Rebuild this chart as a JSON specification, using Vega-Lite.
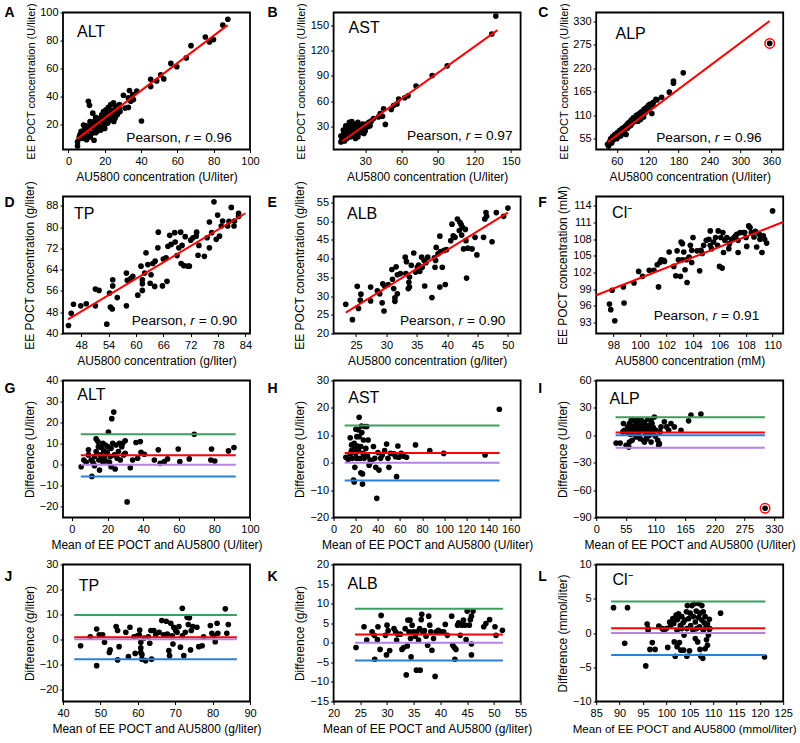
{
"$schema": "https://vega.github.io/schema/vega-lite/v6.json",
"padding": {"left": 3, "top": 1.5, "right": 0, "bottom": 4},
"config": {
  "font": "Liberation Sans",
  "view": {"stroke": "black", "strokeWidth": 1.8},
  "axis": {"grid": false, "domain": false, "tickColor": "black", "tickSize": 3, "tickWidth": 1, "tickCount": 20, "labelColor": "black", "labelFontSize": 11, "labelFont": "Liberation Sans", "titleFont": "Liberation Sans", "titleFontSize": 12, "titleFontWeight": "normal", "titleColor": "black", "labelFlush": false, "labelOverlap": false},
  "axisX": {"labelPadding": 3, "titlePadding": 5},
  "axisY": {"labelPadding": 2, "titleX": -27, "titleBaseline": "bottom"},
  "text": {"font": "Liberation Sans", "color": "black"}
},
"datasets": {
"A": [{"x":5,"y":7.4},{"x":5,"y":4.5},{"x":6,"y":9.8},{"x":6.4,"y":12.7},{"x":7.3,"y":13.5},{"x":8.3,"y":19.5},{"x":9.2,"y":13.5},{"x":9.7,"y":19},{"x":10.5,"y":15.9},{"x":11,"y":36.5},{"x":11.6,"y":33.6},{"x":11.9,"y":21.9},{"x":12.3,"y":17.6},{"x":12.8,"y":13.5},{"x":13.4,"y":28},{"x":13.8,"y":20.7},{"x":14.1,"y":8.6},{"x":14.7,"y":16.6},{"x":15.2,"y":19.5},{"x":15.6,"y":23.2},{"x":16,"y":15.2},{"x":16.5,"y":21.5},{"x":17.1,"y":18.3},{"x":17.4,"y":24.4},{"x":17.8,"y":15.9},{"x":18.3,"y":26.8},{"x":18.9,"y":21.9},{"x":19.3,"y":29.2},{"x":19.6,"y":19},{"x":20.2,"y":24.4},{"x":20.7,"y":30.4},{"x":21.1,"y":25.6},{"x":21.5,"y":20.7},{"x":22,"y":32.1},{"x":22.6,"y":27.3},{"x":22.9,"y":23.2},{"x":23.3,"y":34.1},{"x":23.9,"y":29.2},{"x":24.4,"y":25.6},{"x":24.8,"y":35.3},{"x":25.1,"y":28},{"x":25.7,"y":24.4},{"x":26.2,"y":31.6},{"x":26.6,"y":26.8},{"x":27.5,"y":30.4},{"x":28.1,"y":34.1},{"x":28.4,"y":29.2},{"x":30.3,"y":40.8},{"x":31.2,"y":31.6},{"x":33,"y":32.1},{"x":33,"y":38.9},{"x":33.6,"y":44.2},{"x":34.3,"y":36.5},{"x":35.4,"y":41.3},{"x":35.8,"y":37.7},{"x":37.6,"y":43.8},{"x":40.2,"y":22.4},{"x":6,"y":11},{"x":7,"y":15},{"x":8,"y":10},{"x":9,"y":17},{"x":10,"y":12},{"x":11,"y":18},{"x":12,"y":11},{"x":13,"y":19},{"x":14,"y":22},{"x":15,"y":14},{"x":16,"y":18},{"x":17,"y":22},{"x":18,"y":17},{"x":19,"y":23},{"x":20,"y":20},{"x":21,"y":28},{"x":22,"y":22},{"x":23,"y":26},{"x":24,"y":30},{"x":25,"y":22},{"x":26,"y":33},{"x":27,"y":27},{"x":20,"y":17},{"x":15,"y":25},{"x":10,"y":9},{"x":28,"y":31},{"x":45.3,"y":47},{"x":45.3,"y":52.2},{"x":48.6,"y":51},{"x":50.8,"y":55.4},{"x":52.5,"y":52.5},{"x":56.4,"y":63.6},{"x":59.7,"y":61.2},{"x":64.9,"y":67.5},{"x":67.5,"y":76.3},{"x":75.4,"y":82.5},{"x":77.7,"y":78.9},{"x":79.9,"y":80.6},{"x":85,"y":91},{"x":87.8,"y":95.2}],
"B": [{"x":10,"y":12},{"x":10,"y":19},{"x":11,"y":15},{"x":12,"y":21},{"x":12,"y":17},{"x":13,"y":13},{"x":13,"y":24},{"x":14,"y":19},{"x":14,"y":27},{"x":15,"y":22},{"x":15,"y":16},{"x":16,"y":25},{"x":16,"y":31},{"x":16,"y":20},{"x":17,"y":23},{"x":17,"y":28},{"x":18,"y":18},{"x":18,"y":26},{"x":18,"y":33},{"x":19,"y":22},{"x":19,"y":29},{"x":20,"y":25},{"x":20,"y":31},{"x":20,"y":20},{"x":21,"y":27},{"x":21,"y":23},{"x":22,"y":33},{"x":22,"y":28},{"x":23,"y":25},{"x":23,"y":30},{"x":24,"y":22},{"x":24,"y":35},{"x":25,"y":27},{"x":25,"y":32},{"x":26,"y":29},{"x":26,"y":24},{"x":27,"y":31},{"x":28,"y":26},{"x":28,"y":33},{"x":29,"y":22},{"x":30,"y":29},{"x":31,"y":33},{"x":32,"y":30},{"x":33,"y":35},{"x":34,"y":31},{"x":35,"y":36.5},{"x":22,"y":16},{"x":24,"y":18},{"x":17,"y":35},{"x":19,"y":36},{"x":14,"y":31},{"x":12,"y":26},{"x":27,"y":23},{"x":30,"y":25},{"x":36.9,"y":39.6},{"x":41,"y":41.5},{"x":42.4,"y":45.4},{"x":44.3,"y":42.3},{"x":45.2,"y":51.2},{"x":46.6,"y":32.7},{"x":51.5,"y":50.4},{"x":53.4,"y":55},{"x":56.2,"y":56.9},{"x":57.6,"y":62.7},{"x":62.6,"y":64.2},{"x":65.3,"y":66.5},{"x":71.9,"y":78},{"x":85.2,"y":90.4},{"x":97.6,"y":101.9},{"x":134.3,"y":139.6},{"x":137.6,"y":160.8}],
"C": [{"x":42,"y":42},{"x":44,"y":38},{"x":46,"y":48},{"x":48,"y":55},{"x":50,"y":45},{"x":52,"y":60},{"x":53,"y":52},{"x":55,"y":58},{"x":56,"y":65},{"x":58,"y":62},{"x":60,"y":55},{"x":60,"y":68},{"x":62,"y":70},{"x":63,"y":60},{"x":65,"y":66},{"x":66,"y":75},{"x":67,"y":72},{"x":68,"y":62},{"x":70,"y":78},{"x":71,"y":70},{"x":72,"y":80},{"x":73,"y":74},{"x":75,"y":82},{"x":76,"y":68},{"x":77,"y":85},{"x":78,"y":65},{"x":80,"y":88},{"x":81,"y":80},{"x":82,"y":92},{"x":83,"y":84},{"x":85,"y":90},{"x":86,"y":95},{"x":87,"y":86},{"x":88,"y":99},{"x":90,"y":92},{"x":91,"y":98},{"x":92,"y":104},{"x":93,"y":95},{"x":95,"y":101},{"x":96,"y":106},{"x":97,"y":100},{"x":98,"y":110},{"x":100,"y":104},{"x":101,"y":96},{"x":102,"y":112},{"x":103,"y":107},{"x":105,"y":115},{"x":106,"y":100},{"x":107,"y":110},{"x":108,"y":118},{"x":110,"y":112},{"x":111,"y":120},{"x":112,"y":106},{"x":113,"y":124},{"x":115,"y":116},{"x":116,"y":127},{"x":118,"y":120},{"x":120,"y":130},{"x":121,"y":122},{"x":122,"y":134},{"x":124,"y":126},{"x":125,"y":136},{"x":127,"y":129},{"x":128,"y":114},{"x":130,"y":132},{"x":131,"y":140},{"x":136,"y":147},{"x":138,"y":146},{"x":147,"y":152},{"x":162,"y":164},{"x":170,"y":185},{"x":170,"y":190},{"x":189,"y":209},{"x":356.8,"y":277.8}],
"D": [{"x":45.2,"y":43},{"x":45.8,"y":47.6},{"x":46.3,"y":51},{"x":47.9,"y":50.4},{"x":49.1,"y":51.2},{"x":51.1,"y":56.7},{"x":51.9,"y":56.2},{"x":51.1,"y":50.4},{"x":54.2,"y":55.2},{"x":54.4,"y":49.9},{"x":54.8,"y":49.2},{"x":54.9,"y":60.2},{"x":54.9,"y":57.9},{"x":53.6,"y":43.5},{"x":55.9,"y":53.5},{"x":57.9,"y":62.7},{"x":58.1,"y":60},{"x":57.9,"y":50.4},{"x":58.9,"y":60.7},{"x":59.3,"y":61.5},{"x":60.4,"y":54.4},{"x":61.1,"y":65.3},{"x":61.4,"y":60.2},{"x":61.4,"y":58.7},{"x":61.4,"y":56.2},{"x":61.9,"y":62.7},{"x":62.2,"y":70.3},{"x":62.6,"y":65.9},{"x":63.1,"y":58.9},{"x":63.3,"y":62.1},{"x":63.7,"y":66.3},{"x":64.1,"y":57.7},{"x":64.2,"y":67.2},{"x":64.8,"y":72.2},{"x":64.9,"y":78.1},{"x":66,"y":68},{"x":65.8,"y":57.9},{"x":66.8,"y":59.6},{"x":66.6,"y":68.4},{"x":67,"y":72.8},{"x":67.4,"y":76.9},{"x":67.7,"y":73.5},{"x":68.5,"y":77.9},{"x":68.6,"y":74.4},{"x":69,"y":69.3},{"x":69.4,"y":72.2},{"x":69.8,"y":78.1},{"x":69.9,"y":66.3},{"x":70.1,"y":73.1},{"x":70.5,"y":65.5},{"x":70.8,"y":76.4},{"x":71.4,"y":65.3},{"x":71.7,"y":65.3},{"x":72,"y":75.1},{"x":72.5,"y":76},{"x":73.2,"y":76.6},{"x":73.3,"y":78.1},{"x":73.6,"y":69.4},{"x":73.8,"y":73.1},{"x":75,"y":69},{"x":75.6,"y":76},{"x":76.1,"y":72.2},{"x":76.1,"y":81.9},{"x":76.6,"y":77.9},{"x":77.1,"y":89.5},{"x":77.6,"y":75.4},{"x":77.9,"y":84.5},{"x":78.3,"y":76.6},{"x":78.7,"y":80.4},{"x":79,"y":82.3},{"x":80.1,"y":80.4},{"x":80.4,"y":82.2},{"x":80.9,"y":87.4},{"x":81.5,"y":80.4},{"x":81.6,"y":82.3},{"x":82.5,"y":84},{"x":82.5,"y":85.2}],
"E": [{"x":23.3,"y":27.8},{"x":24.4,"y":23.7},{"x":25.2,"y":32.6},{"x":25.4,"y":26.7},{"x":25.8,"y":30.5},{"x":25.7,"y":28.9},{"x":27.4,"y":32.4},{"x":27.4,"y":28.7},{"x":28.5,"y":31.4},{"x":28.9,"y":30.6},{"x":29.3,"y":28.2},{"x":29.4,"y":33.3},{"x":29.6,"y":26},{"x":29.7,"y":32.7},{"x":30.3,"y":33.1},{"x":30.9,"y":37.1},{"x":31,"y":34.5},{"x":31.2,"y":32},{"x":31.4,"y":29.5},{"x":31.4,"y":28.6},{"x":31.6,"y":37.8},{"x":31.8,"y":35.7},{"x":31.8,"y":30.6},{"x":32.3,"y":36},{"x":33.1,"y":40.4},{"x":33.2,"y":36},{"x":33.3,"y":39.2},{"x":33.6,"y":32},{"x":33.7,"y":33.7},{"x":33.8,"y":32.4},{"x":33.8,"y":35.1},{"x":34.1,"y":38.2},{"x":34.5,"y":41.5},{"x":34.8,"y":36.4},{"x":35.1,"y":37.7},{"x":35.3,"y":38.3},{"x":35.5,"y":36.6},{"x":35.8,"y":40.4},{"x":35.9,"y":37.7},{"x":36.2,"y":39.5},{"x":36.3,"y":32.7},{"x":36.5,"y":38.9},{"x":36.8,"y":40.4},{"x":37.5,"y":29.6},{"x":37.9,"y":40.2},{"x":38,"y":37.7},{"x":38.1,"y":39.5},{"x":38.2,"y":43},{"x":38.5,"y":41.3},{"x":38.8,"y":46},{"x":38.9,"y":41.9},{"x":38.8,"y":32.4},{"x":39.2,"y":37.7},{"x":39.5,"y":42.2},{"x":39.7,"y":33.1},{"x":39.9,"y":42.4},{"x":40.6,"y":44.8},{"x":40.8,"y":49.2},{"x":41,"y":46.1},{"x":41.3,"y":45.7},{"x":41.7,"y":50.6},{"x":42,"y":47.5},{"x":42.1,"y":49.7},{"x":42.3,"y":49.1},{"x":42.4,"y":46.3},{"x":42.5,"y":48.4},{"x":42.7,"y":42.6},{"x":43,"y":47.8},{"x":43.1,"y":44.8},{"x":43.2,"y":34.8},{"x":43.4,"y":42.8},{"x":44.1,"y":42.6},{"x":44.6,"y":45.7},{"x":44.9,"y":41},{"x":46,"y":45.7},{"x":46.2,"y":50.6},{"x":46.4,"y":52.3},{"x":46.5,"y":51.3},{"x":47.4,"y":44.5},{"x":48.1,"y":52.3},{"x":49.3,"y":51.3},{"x":50,"y":53.5}],
"F": [{"x":97.7,"y":96.3},{"x":97.8,"y":95.3},{"x":98.1,"y":93.3},{"x":97.9,"y":98.8},{"x":98.75,"y":99.4},{"x":98.8,"y":96.5},{"x":99.55,"y":100.1},{"x":99.9,"y":102.2},{"x":100.2,"y":101.3},{"x":100.7,"y":102.4},{"x":101.05,"y":102.4},{"x":101.3,"y":103.4},{"x":101.4,"y":99.4},{"x":101.5,"y":103.8},{"x":101.6,"y":104.3},{"x":101.8,"y":104.2},{"x":102.2,"y":105.7},{"x":101.85,"y":104},{"x":102.55,"y":103.1},{"x":102.7,"y":101.4},{"x":102.8,"y":105.9},{"x":102.9,"y":104.3},{"x":103.05,"y":101.3},{"x":103.1,"y":107.5},{"x":103.2,"y":107.2},{"x":103.2,"y":104.3},{"x":103.3,"y":105.7},{"x":103.4,"y":102.5},{"x":103.5,"y":104.3},{"x":103.55,"y":100.2},{"x":103.7,"y":104.8},{"x":103.8,"y":106.9},{"x":103.9,"y":106},{"x":104,"y":108.3},{"x":103.9,"y":103.8},{"x":104.3,"y":105.9},{"x":104.5,"y":102.3},{"x":104.6,"y":106},{"x":104.7,"y":105.4},{"x":104.8,"y":106.9},{"x":105,"y":107.8},{"x":105.2,"y":108},{"x":105.3,"y":109.5},{"x":105.3,"y":106.9},{"x":105.4,"y":106.3},{"x":105.55,"y":107.5},{"x":105.7,"y":108.3},{"x":105.85,"y":106.9},{"x":105.9,"y":109.5},{"x":106,"y":103.1},{"x":106.1,"y":108.3},{"x":106.2,"y":102.8},{"x":106.25,"y":109.2},{"x":106.3,"y":105.6},{"x":106.4,"y":107.8},{"x":106.55,"y":108.3},{"x":106.7,"y":106.3},{"x":106.75,"y":107.2},{"x":106.9,"y":108},{"x":107.1,"y":108.3},{"x":107.2,"y":108.6},{"x":107.3,"y":108.9},{"x":107.4,"y":105.6},{"x":107.55,"y":109.2},{"x":107.8,"y":109.2},{"x":108,"y":108.3},{"x":108.05,"y":106.7},{"x":108.2,"y":110.4},{"x":108.3,"y":110.1},{"x":108.4,"y":109.2},{"x":108.6,"y":108.4},{"x":108.7,"y":109.4},{"x":108.8,"y":106.6},{"x":109,"y":108.9},{"x":109.05,"y":108},{"x":109.2,"y":105.6},{"x":109.3,"y":108.6},{"x":109.4,"y":108},{"x":109.55,"y":107.3},{"x":110,"y":113.1},{"x":107.9,"y":109.2},{"x":107.4,"y":107.8}],
"G": [{"x":5.2,"y":-0.9},{"x":6.7,"y":2.3},{"x":8,"y":1.2},{"x":9.3,"y":7.1},{"x":9.3,"y":4.7},{"x":10.8,"y":2.3},{"x":11.2,"y":-5.5},{"x":11.8,"y":1.2},{"x":12.7,"y":-0.4},{"x":12.7,"y":3.9},{"x":13.6,"y":12.3},{"x":13.6,"y":6.3},{"x":14.6,"y":11},{"x":14.9,"y":8.6},{"x":15.1,"y":2.3},{"x":15.5,"y":-2.5},{"x":16,"y":4.7},{"x":16.4,"y":8.2},{"x":16.8,"y":3.4},{"x":17.4,"y":10.2},{"x":17.4,"y":1.2},{"x":17.9,"y":6.6},{"x":18.3,"y":3.9},{"x":18.7,"y":9.4},{"x":19.2,"y":1.8},{"x":19.8,"y":5.9},{"x":20.1,"y":8.6},{"x":20.5,"y":15.5},{"x":21.1,"y":1.2},{"x":21.6,"y":3.9},{"x":22,"y":-0.9},{"x":22,"y":7.8},{"x":22.4,"y":21.9},{"x":22.9,"y":10.2},{"x":23.5,"y":25},{"x":23.9,"y":4.7},{"x":24.3,"y":-2},{"x":24.8,"y":9.4},{"x":25.4,"y":3.1},{"x":26.1,"y":6.3},{"x":26.7,"y":10.2},{"x":27.2,"y":2.3},{"x":28,"y":8.6},{"x":28.5,"y":10.2},{"x":29.1,"y":4.7},{"x":29.9,"y":11.4},{"x":29.9,"y":5.5},{"x":31,"y":-17.6},{"x":32.8,"y":-1.4},{"x":34.1,"y":2.3},{"x":36,"y":10.6},{"x":36.9,"y":3.1},{"x":38.4,"y":11},{"x":38.8,"y":5.9},{"x":40.7,"y":5},{"x":46.3,"y":2.3},{"x":48.5,"y":7.1},{"x":49.6,"y":0.7},{"x":51.9,"y":1.5},{"x":53.7,"y":2.8},{"x":59.7,"y":7.5},{"x":60.6,"y":1.5},{"x":65.9,"y":2.8},{"x":68.7,"y":14.5},{"x":78.4,"y":7.5},{"x":78,"y":2.3},{"x":80.2,"y":1.8},{"x":87.9,"y":6.6},{"x":91,"y":8.2}],
"H": [{"x":11.1,"y":2},{"x":13.2,"y":1.2},{"x":15,"y":3.2},{"x":15,"y":9.1},{"x":16.2,"y":6.5},{"x":16.2,"y":4.4},{"x":17.1,"y":1.6},{"x":18,"y":-6.3},{"x":18.6,"y":-7},{"x":18.6,"y":7.1},{"x":19.2,"y":5.2},{"x":19.2,"y":-1.7},{"x":20.1,"y":12.2},{"x":20.1,"y":3.4},{"x":21,"y":9.5},{"x":21,"y":1.6},{"x":21.6,"y":6.1},{"x":22.2,"y":12},{"x":22.5,"y":4.4},{"x":23.1,"y":16.6},{"x":23.1,"y":9.5},{"x":24,"y":1.6},{"x":24.6,"y":-3.7},{"x":24.6,"y":5.9},{"x":25.2,"y":13.4},{"x":25.5,"y":11},{"x":26.1,"y":-7.8},{"x":26.1,"y":-4.1},{"x":26.7,"y":3.4},{"x":27,"y":8.3},{"x":27.6,"y":1.6},{"x":28.2,"y":13.2},{"x":29.1,"y":5.2},{"x":30,"y":13.2},{"x":30.6,"y":2.4},{"x":31.2,"y":8.3},{"x":32.1,"y":-0.9},{"x":33,"y":1},{"x":34.2,"y":0.4},{"x":36,"y":5.9},{"x":37.2,"y":1.6},{"x":38.1,"y":-1.7},{"x":39,"y":-13},{"x":40.1,"y":3.7},{"x":41,"y":-2.7},{"x":42.5,"y":1.6},{"x":44,"y":2.8},{"x":46.1,"y":4.4},{"x":47.9,"y":6.8},{"x":49.1,"y":1.6},{"x":50,"y":-1.7},{"x":51.5,"y":3.4},{"x":54.5,"y":3.2},{"x":56,"y":2.2},{"x":56.9,"y":-5.1},{"x":58.1,"y":6.1},{"x":59,"y":2},{"x":61.1,"y":3.4},{"x":62.9,"y":2.4},{"x":65.9,"y":2},{"x":74,"y":6.5},{"x":86.9,"y":4.4},{"x":99.5,"y":3.4},{"x":136.9,"y":2.8},{"x":149.8,"y":19.5}],
"I": [{"x":37,"y":-8.5},{"x":44.4,"y":-8.5},{"x":50.6,"y":12.9},{"x":52.4,"y":5.5},{"x":55.5,"y":-11},{"x":56.8,"y":3.7},{"x":58.6,"y":9.2},{"x":60.5,"y":-12.9},{"x":61.7,"y":12.9},{"x":62.9,"y":1.1},{"x":64.8,"y":16},{"x":66.6,"y":-5.5},{"x":67.9,"y":9.2},{"x":69.1,"y":17.3},{"x":70.9,"y":5.5},{"x":72.8,"y":12.9},{"x":74,"y":-1.8},{"x":75.3,"y":7.4},{"x":77.1,"y":16.6},{"x":79,"y":2.6},{"x":80.2,"y":11},{"x":81.4,"y":-3.7},{"x":83.3,"y":16.6},{"x":85.1,"y":5.5},{"x":86.4,"y":9.2},{"x":87.6,"y":-5.5},{"x":89.5,"y":12.9},{"x":91.3,"y":1.8},{"x":92.5,"y":7.4},{"x":93.8,"y":-3.7},{"x":95.6,"y":17.3},{"x":97.5,"y":10},{"x":98.7,"y":0},{"x":100,"y":4.8},{"x":101.8,"y":-7.4},{"x":103.6,"y":12.9},{"x":104.9,"y":2.6},{"x":106.1,"y":8.5},{"x":108,"y":20},{"x":109.8,"y":-1.1},{"x":111,"y":5.5},{"x":114.1,"y":-5.5},{"x":116,"y":-11},{"x":117.2,"y":-9.2},{"x":118.4,"y":3.7},{"x":120.3,"y":9.2},{"x":126.5,"y":14.7},{"x":130.8,"y":9.2},{"x":134.5,"y":5.5},{"x":138.8,"y":12.9},{"x":145,"y":9.2},{"x":157.3,"y":5.5},{"x":171.5,"y":15.8},{"x":175.8,"y":22.1},{"x":194.3,"y":23.2},{"x":55.5,"y":5.5},{"x":61.7,"y":6.3},{"x":67.9,"y":1.8},{"x":74,"y":9.2},{"x":80.2,"y":5.5},{"x":86.4,"y":14.7},{"x":92.5,"y":1.1},{"x":98.7,"y":11},{"x":101.8,"y":16},{"x":89.5,"y":-7.4},{"x":61.7,"y":-7.4},{"x":49.4,"y":3.7},{"x":313.4,"y":-79.9}],
"J": [{"x":44.7,"y":-2.6},{"x":47.3,"y":1},{"x":49,"y":4.1},{"x":49,"y":-10.6},{"x":49.7,"y":1.8},{"x":50.6,"y":1.8},{"x":51.1,"y":-1.2},{"x":52.4,"y":-5.3},{"x":52.6,"y":-4.3},{"x":54.2,"y":5.1},{"x":54.6,"y":3.5},{"x":54.6,"y":-8.3},{"x":55,"y":-3},{"x":56.8,"y":2.8},{"x":57.9,"y":4.8},{"x":57.5,"y":-7},{"x":59,"y":1},{"x":59.3,"y":-5.7},{"x":59.9,"y":1.4},{"x":60.4,"y":1.8},{"x":60.5,"y":3.7},{"x":60.8,"y":-1.2},{"x":60.8,"y":-3.5},{"x":61.1,"y":-8},{"x":60.8,"y":-5.3},{"x":61.1,"y":-6.2},{"x":61.7,"y":0.5},{"x":62.1,"y":-8.6},{"x":62.8,"y":1},{"x":63.2,"y":-1.6},{"x":63.5,"y":3.5},{"x":63.7,"y":-8},{"x":64.3,"y":3.5},{"x":64.8,"y":1.8},{"x":65.7,"y":2.8},{"x":66.4,"y":7.5},{"x":66.9,"y":1.8},{"x":67.6,"y":7.2},{"x":67.9,"y":2.1},{"x":68.3,"y":-4.6},{"x":68.5,"y":-6.6},{"x":68.8,"y":6.4},{"x":69.2,"y":1.4},{"x":69.4,"y":-1.9},{"x":69.6,"y":4.8},{"x":70.1,"y":3.5},{"x":70.5,"y":2.8},{"x":71,"y":5.1},{"x":71.4,"y":-3.2},{"x":71.9,"y":12.4},{"x":71.9,"y":1.4},{"x":72.3,"y":-6.6},{"x":72.7,"y":2.8},{"x":73.2,"y":8.8},{"x":73.5,"y":5.9},{"x":73.8,"y":8.6},{"x":74.1,"y":-4.3},{"x":74.3,"y":3.5},{"x":74.7,"y":5.1},{"x":75.8,"y":4.8},{"x":76.3,"y":-3},{"x":77.2,"y":-2.6},{"x":77.6,"y":1},{"x":79.4,"y":5.5},{"x":79.8,"y":2.4},{"x":80.3,"y":1.4},{"x":80.7,"y":-1},{"x":81.2,"y":6.4},{"x":81.4,"y":2.4},{"x":83.4,"y":12.2},{"x":83.8,"y":2.4},{"x":84.2,"y":5.9}],
"K": [{"x":24.2,"y":-1.2},{"x":25.7,"y":4.1},{"x":26.2,"y":0.7},{"x":27.2,"y":2.8},{"x":27.6,"y":1.9},{"x":27.7,"y":-4.2},{"x":28.2,"y":0.8},{"x":28.3,"y":4.1},{"x":28.7,"y":-1.7},{"x":28.9,"y":7},{"x":29.7,"y":1.9},{"x":29.9,"y":-3.1},{"x":30,"y":4.5},{"x":30.2,"y":3.1},{"x":30.5,"y":-2},{"x":31.3,"y":3.6},{"x":31.6,"y":2.8},{"x":31.8,"y":0.7},{"x":32,"y":2.2},{"x":32.5,"y":2.2},{"x":32.8,"y":-1.7},{"x":33.1,"y":-1.2},{"x":33.4,"y":3.6},{"x":33.6,"y":-8.2},{"x":33.8,"y":-0.8},{"x":33.9,"y":5.8},{"x":34.1,"y":2.8},{"x":34.3,"y":5.8},{"x":34.4,"y":1.1},{"x":34.5,"y":-3.6},{"x":34.7,"y":4.5},{"x":34.9,"y":2.8},{"x":35.3,"y":1.7},{"x":35.5,"y":-7},{"x":35.6,"y":2.8},{"x":35.9,"y":0.7},{"x":36.1,"y":3.6},{"x":36.2,"y":-7},{"x":36.4,"y":5.9},{"x":36.5,"y":7.3},{"x":36.7,"y":2.8},{"x":37,"y":3.1},{"x":37.3,"y":1.7},{"x":37.6,"y":-0.6},{"x":37.8,"y":6.8},{"x":38,"y":4.5},{"x":38.2,"y":2.8},{"x":38.4,"y":-1.9},{"x":38.7,"y":1.1},{"x":39,"y":-8.6},{"x":39.2,"y":2.8},{"x":39.6,"y":3.2},{"x":40.1,"y":2.8},{"x":40.6,"y":2.8},{"x":40.9,"y":4.7},{"x":41.3,"y":1.9},{"x":42.1,"y":6.8},{"x":42.3,"y":-0.6},{"x":42.6,"y":-1.2},{"x":42.7,"y":-4.2},{"x":42.9,"y":-1.7},{"x":43.2,"y":4.5},{"x":43.4,"y":5.1},{"x":43.7,"y":1.9},{"x":44,"y":4.5},{"x":44.3,"y":5.8},{"x":44.6,"y":4.5},{"x":44.8,"y":0.8},{"x":45,"y":8.1},{"x":45.4,"y":4.5},{"x":45.6,"y":5.9},{"x":45.8,"y":6.8},{"x":45.8,"y":-3.1},{"x":45.8,"y":-0.3},{"x":46.1,"y":8.1},{"x":48.1,"y":4.1},{"x":48.5,"y":4.9},{"x":49.2,"y":5.9},{"x":50.2,"y":4.1},{"x":50.4,"y":1.9},{"x":51.6,"y":3.2}],
"L": [{"x":88.7,"y":3.7},{"x":91.1,"y":-1.5},{"x":91.7,"y":3.7},{"x":95.6,"y":-4.8},{"x":95.9,"y":1.3},{"x":96.1,"y":0.65},{"x":96.1,"y":0.4},{"x":96.5,"y":-2.4},{"x":97,"y":-1.4},{"x":97.6,"y":-2.4},{"x":98.4,"y":1},{"x":99.1,"y":0.65},{"x":99.5,"y":0.4},{"x":100,"y":0.65},{"x":100.3,"y":-2.1},{"x":100.7,"y":1.6},{"x":100.9,"y":1.1},{"x":101.4,"y":2.1},{"x":101.6,"y":1.4},{"x":101.7,"y":-1.3},{"x":101.9,"y":-3.4},{"x":102.1,"y":2.6},{"x":102.3,"y":0.4},{"x":102.3,"y":-2},{"x":102.4,"y":1.96},{"x":102.6,"y":2.8},{"x":102.8,"y":-1.4},{"x":103,"y":1.1},{"x":103.1,"y":-2.5},{"x":103.3,"y":0.65},{"x":103.3,"y":2.4},{"x":103.6,"y":1.5},{"x":103.7,"y":-2.5},{"x":103.8,"y":-0.3},{"x":104,"y":1.9},{"x":104.3,"y":3.1},{"x":104.4,"y":0.65},{"x":104.4,"y":-3.4},{"x":104.5,"y":4},{"x":104.8,"y":2.1},{"x":104.96,"y":-2.6},{"x":105.1,"y":2.9},{"x":105.2,"y":1.1},{"x":105.5,"y":4},{"x":105.7,"y":0.4},{"x":105.8,"y":2.4},{"x":106,"y":4.3},{"x":106.2,"y":-0.8},{"x":106.2,"y":1.6},{"x":106.4,"y":3.2},{"x":106.5,"y":0.65},{"x":106.7,"y":-1.3},{"x":106.9,"y":2.25},{"x":106.9,"y":4.3},{"x":107.1,"y":0.9},{"x":107.2,"y":-2.4},{"x":107.2,"y":2.9},{"x":107.4,"y":-3.4},{"x":107.6,"y":4},{"x":107.6,"y":1.9},{"x":107.8,"y":-3.7},{"x":107.9,"y":3.1},{"x":107.9,"y":0.4},{"x":108.1,"y":1.5},{"x":108.3,"y":-2.3},{"x":108.3,"y":2.4},{"x":108.5,"y":0.9},{"x":108.6,"y":-1},{"x":108.8,"y":1.3},{"x":108.8,"y":-1.8},{"x":109,"y":-0.3},{"x":109.2,"y":2},{"x":109.3,"y":0.65},{"x":109.2,"y":0.5},{"x":111.6,"y":2.9},{"x":121,"y":-3.5}]
},
"hconcat": [
 {"vconcat": [
  {"width":187,"height":137,"data":{"name":"A"},"layer":[
   {"mark":{"type":"point","filled":true,"size":32,"color":"black","opacity":1},"encoding":{"x":{"field":"x","type":"quantitative","scale":{"domain":[-3,100],"nice":false,"zero":false},"axis":{"values":[0,20,40,60,80,100],"tickCount":20,"title":"AU5800 concentration (U/liter)"}},"y":{"field":"y","type":"quantitative","scale":{"domain":[2,100],"nice":false,"zero":false},"axis":{"values":[20,40,60,80,100],"tickCount":20,"title":"EE POCT concentration (U/liter)","titleFontSize":11}}}},
   {"data":{"values":[{"x":5,"y":9.8,"x2":87.7,"y2":91}]},"mark":{"type":"rule","color":"#ff0000","strokeWidth":2},"encoding":{"x":{"field":"x","type":"quantitative"},"y":{"field":"y","type":"quantitative"},"x2":{"field":"x2"},"y2":{"field":"y2"}}},
   {"data":{"values":[{}]},"mark":{"type":"text","fontSize":16,"align":"left","baseline":"alphabetic"},"encoding":{"x":{"datum":4.7},"y":{"datum":82.7},"text":{"value":"ALT"}}},
   {"data":{"values":[{}]},"mark":{"type":"text","fontSize":13.7,"align":"right","baseline":"alphabetic","dx":-50.7},"encoding":{"x":{"datum":90},"y":{"datum":7.2},"text":{"value":"Pearson,"}}},
   {"data":{"values":[{}]},"mark":{"type":"text","fontSize":13.7,"fontStyle":"italic","align":"right","baseline":"alphabetic","dx":-42.3},"encoding":{"x":{"datum":90},"y":{"datum":7.2},"text":{"value":"r"}}},
   {"data":{"values":[{}]},"mark":{"type":"text","fontSize":13.7,"align":"right","baseline":"alphabetic"},"encoding":{"x":{"datum":90},"y":{"datum":7.2},"text":{"value":"= 0.96"}}},
   {"data":{"values":[{}]},"mark":{"type":"text","fontSize":14,"fontWeight":"bold","align":"left","baseline":"alphabetic","dx":-58.5,"dy":4},"encoding":{"x":{"datum":-3},"y":{"datum":100},"text":{"value":"A"}}}
  ]},
  {"width":187,"height":137,"data":{"name":"D"},"layer":[
   {"mark":{"type":"point","filled":true,"size":32,"color":"black","opacity":1},"encoding":{"x":{"field":"x","type":"quantitative","scale":{"domain":[44,85],"nice":false,"zero":false},"axis":{"values":[48,54,60,66,72,78,84],"tickCount":20,"title":"AU5800 concentration (g/liter)"}},"y":{"field":"y","type":"quantitative","scale":{"domain":[40,91.5],"nice":false,"zero":false},"axis":{"values":[40,48,56,64,72,80,88],"tickCount":20,"title":"EE POCT concentration (g/liter)"}}}},
   {"data":{"values":[{"x":45.1,"y":45.3,"x2":84,"y2":85.2}]},"mark":{"type":"rule","color":"#ff0000","strokeWidth":2},"encoding":{"x":{"field":"x","type":"quantitative"},"y":{"field":"y","type":"quantitative"},"x2":{"field":"x2"},"y2":{"field":"y2"}}},
   {"data":{"values":[{}]},"mark":{"type":"text","fontSize":16,"align":"left","baseline":"alphabetic"},"encoding":{"x":{"datum":46.4},"y":{"datum":82.9},"text":{"value":"TP"}}},
   {"data":{"values":[{}]},"mark":{"type":"text","fontSize":13.7,"align":"right","baseline":"alphabetic","dx":-50.7},"encoding":{"x":{"datum":82.2},"y":{"datum":43.2},"text":{"value":"Pearson,"}}},
   {"data":{"values":[{}]},"mark":{"type":"text","fontSize":13.7,"fontStyle":"italic","align":"right","baseline":"alphabetic","dx":-42.3},"encoding":{"x":{"datum":82.2},"y":{"datum":43.2},"text":{"value":"r"}}},
   {"data":{"values":[{}]},"mark":{"type":"text","fontSize":13.7,"align":"right","baseline":"alphabetic"},"encoding":{"x":{"datum":82.2},"y":{"datum":43.2},"text":{"value":"= 0.90"}}},
   {"data":{"values":[{}]},"mark":{"type":"text","fontSize":14,"fontWeight":"bold","align":"left","baseline":"alphabetic","dx":-58.5,"dy":10},"encoding":{"x":{"datum":44},"y":{"datum":91.5},"text":{"value":"D"}}}
  ]},
  {"width":187,"height":137,"data":{"name":"G"},"layer":[
   {"mark":{"type":"point","filled":true,"size":32,"color":"black","opacity":1},"encoding":{"x":{"field":"x","type":"quantitative","scale":{"domain":[-5,100],"nice":false,"zero":false},"axis":{"values":[0,20,40,60,80,100],"tickCount":20,"title":"Mean of EE POCT and AU5800 (U/liter)"}},"y":{"field":"y","type":"quantitative","scale":{"domain":[-25,40],"nice":false,"zero":false},"axis":{"values":[-20,-10,0,10,20,30,40],"tickCount":20,"title":"Difference (U/liter)"}}}},
   {"data":{"values":[{"line":"upper","x":5,"x2":92,"y":14.5},{"line":"mean","x":5,"x2":92,"y":4.5},{"line":"zero","x":5,"x2":92,"y":0},{"line":"lower","x":5,"x2":92,"y":-5.6}]},"mark":{"type":"rule","strokeWidth":2},"encoding":{"x":{"field":"x","type":"quantitative"},"x2":{"field":"x2"},"y":{"field":"y","type":"quantitative"},"color":{"field":"line","type":"nominal","scale":{"domain":["upper","mean","zero","lower"],"range":["#3d9e63","#ff0000","#b583e0","#2e7fd9"]},"legend":null}}},
   {"data":{"values":[{}]},"mark":{"type":"text","fontSize":16,"align":"left","baseline":"alphabetic"},"encoding":{"x":{"datum":3},"y":{"datum":30.9},"text":{"value":"ALT"}}},
   {"data":{"values":[{}]},"mark":{"type":"text","fontSize":14,"fontWeight":"bold","align":"left","baseline":"alphabetic","dx":-58.5,"dy":12},"encoding":{"x":{"datum":-5},"y":{"datum":40},"text":{"value":"G"}}}
  ]},
  {"width":187,"height":137,"data":{"name":"J"},"layer":[
   {"mark":{"type":"point","filled":true,"size":32,"color":"black","opacity":1},"encoding":{"x":{"field":"x","type":"quantitative","scale":{"domain":[40,90],"nice":false,"zero":false},"axis":{"values":[40,50,60,70,80,90],"tickCount":20,"title":"Mean of EE POCT and AU5800 (g/liter)"}},"y":{"field":"y","type":"quantitative","scale":{"domain":[-25,30],"nice":false,"zero":false},"axis":{"values":[-20,-10,0,10,20,30],"tickCount":20,"title":"Difference (g/liter)"}}}},
   {"data":{"values":[{"line":"upper","x":43,"x2":86.5,"y":9.7},{"line":"mean","x":43,"x2":86.5,"y":0.8},{"line":"zero","x":43,"x2":86.5,"y":0},{"line":"lower","x":43,"x2":86.5,"y":-8}]},"mark":{"type":"rule","strokeWidth":2},"encoding":{"x":{"field":"x","type":"quantitative"},"x2":{"field":"x2"},"y":{"field":"y","type":"quantitative"},"color":{"field":"line","type":"nominal","scale":{"domain":["upper","mean","zero","lower"],"range":["#3d9e63","#ff0000","#b583e0","#2e7fd9"]},"legend":null}}},
   {"data":{"values":[{}]},"mark":{"type":"text","fontSize":16,"align":"left","baseline":"alphabetic"},"encoding":{"x":{"datum":44.2},"y":{"datum":19.3},"text":{"value":"TP"}}},
   {"data":{"values":[{}]},"mark":{"type":"text","fontSize":14,"fontWeight":"bold","align":"left","baseline":"alphabetic","dx":-58.5,"dy":16},"encoding":{"x":{"datum":40},"y":{"datum":30},"text":{"value":"J"}}}
  ]}
 ], "spacing": 47, "bounds": "flush", "resolve": {"scale": {"color": "independent"}}},
 {"vconcat": [
  {"width":187,"height":137,"data":{"name":"B"},"layer":[
   {"mark":{"type":"point","filled":true,"size":32,"color":"black","opacity":1},"encoding":{"x":{"field":"x","type":"quantitative","scale":{"domain":[4,158],"nice":false,"zero":false},"axis":{"values":[30,60,90,120,150],"tickCount":20,"title":"AU5800 concentration (U/liter)"}},"y":{"field":"y","type":"quantitative","scale":{"domain":[3,165],"nice":false,"zero":false},"axis":{"values":[30,60,90,120,150],"tickCount":20,"title":"EE POCT concentration (U/liter)","titleFontSize":11}}}},
   {"data":{"values":[{"x":11.2,"y":12.7,"x2":139,"y2":144.2}]},"mark":{"type":"rule","color":"#ff0000","strokeWidth":2},"encoding":{"x":{"field":"x","type":"quantitative"},"y":{"field":"y","type":"quantitative"},"x2":{"field":"x2"},"y2":{"field":"y2"}}},
   {"data":{"values":[{}]},"mark":{"type":"text","fontSize":16,"align":"left","baseline":"alphabetic"},"encoding":{"x":{"datum":16.3},"y":{"datum":141},"text":{"value":"AST"}}},
   {"data":{"values":[{}]},"mark":{"type":"text","fontSize":13.7,"align":"right","baseline":"alphabetic","dx":-50.7},"encoding":{"x":{"datum":151.4},"y":{"datum":14.6},"text":{"value":"Pearson,"}}},
   {"data":{"values":[{}]},"mark":{"type":"text","fontSize":13.7,"fontStyle":"italic","align":"right","baseline":"alphabetic","dx":-42.3},"encoding":{"x":{"datum":151.4},"y":{"datum":14.6},"text":{"value":"r"}}},
   {"data":{"values":[{}]},"mark":{"type":"text","fontSize":13.7,"align":"right","baseline":"alphabetic"},"encoding":{"x":{"datum":151.4},"y":{"datum":14.6},"text":{"value":"= 0.97"}}},
   {"data":{"values":[{}]},"mark":{"type":"text","fontSize":14,"fontWeight":"bold","align":"left","baseline":"alphabetic","dx":-66,"dy":4},"encoding":{"x":{"datum":4},"y":{"datum":165},"text":{"value":"B"}}}
  ]},
  {"width":187,"height":137,"data":{"name":"E"},"layer":[
   {"mark":{"type":"point","filled":true,"size":32,"color":"black","opacity":1},"encoding":{"x":{"field":"x","type":"quantitative","scale":{"domain":[21.3,52.1],"nice":false,"zero":false},"axis":{"values":[25,30,35,40,45,50],"tickCount":20,"title":"AU5800 concentration (g/liter)"}},"y":{"field":"y","type":"quantitative","scale":{"domain":[20,56.6],"nice":false,"zero":false},"axis":{"values":[20,25,30,35,40,45,50,55],"tickCount":20,"title":"EE POCT concentration (g/liter)"}}}},
   {"data":{"values":[{"x":23.3,"y":25.6,"x2":50,"y2":52.3}]},"mark":{"type":"rule","color":"#ff0000","strokeWidth":2},"encoding":{"x":{"field":"x","type":"quantitative"},"y":{"field":"y","type":"quantitative"},"x2":{"field":"x2"},"y2":{"field":"y2"}}},
   {"data":{"values":[{}]},"mark":{"type":"text","fontSize":16,"align":"left","baseline":"alphabetic"},"encoding":{"x":{"datum":23.5},"y":{"datum":50.6},"text":{"value":"ALB"}}},
   {"data":{"values":[{}]},"mark":{"type":"text","fontSize":13.7,"align":"right","baseline":"alphabetic","dx":-50.7},"encoding":{"x":{"datum":49.6},"y":{"datum":22.4},"text":{"value":"Pearson,"}}},
   {"data":{"values":[{}]},"mark":{"type":"text","fontSize":13.7,"fontStyle":"italic","align":"right","baseline":"alphabetic","dx":-42.3},"encoding":{"x":{"datum":49.6},"y":{"datum":22.4},"text":{"value":"r"}}},
   {"data":{"values":[{}]},"mark":{"type":"text","fontSize":13.7,"align":"right","baseline":"alphabetic"},"encoding":{"x":{"datum":49.6},"y":{"datum":22.4},"text":{"value":"= 0.90"}}},
   {"data":{"values":[{}]},"mark":{"type":"text","fontSize":14,"fontWeight":"bold","align":"left","baseline":"alphabetic","dx":-66,"dy":10},"encoding":{"x":{"datum":21.3},"y":{"datum":56.6},"text":{"value":"E"}}}
  ]},
  {"width":187,"height":137,"data":{"name":"H"},"layer":[
   {"mark":{"type":"point","filled":true,"size":32,"color":"black","opacity":1},"encoding":{"x":{"field":"x","type":"quantitative","scale":{"domain":[0,169],"nice":false,"zero":false},"axis":{"values":[0,20,40,60,80,100,120,140,160],"tickCount":20,"title":"Mean of EE POCT and AU5800 (U/liter)"}},"y":{"field":"y","type":"quantitative","scale":{"domain":[-20,30],"nice":false,"zero":false},"axis":{"values":[-20,-10,0,10,20,30],"tickCount":20,"title":"Difference (U/liter)"}}}},
   {"data":{"values":[{"line":"upper","x":10,"x2":150,"y":13.6},{"line":"mean","x":10,"x2":150,"y":3.5},{"line":"zero","x":10,"x2":150,"y":0},{"line":"lower","x":10,"x2":150,"y":-6.5}]},"mark":{"type":"rule","strokeWidth":2},"encoding":{"x":{"field":"x","type":"quantitative"},"x2":{"field":"x2"},"y":{"field":"y","type":"quantitative"},"color":{"field":"line","type":"nominal","scale":{"domain":["upper","mean","zero","lower"],"range":["#3d9e63","#ff0000","#b583e0","#2e7fd9"]},"legend":null}}},
   {"data":{"values":[{}]},"mark":{"type":"text","fontSize":16,"align":"left","baseline":"alphabetic"},"encoding":{"x":{"datum":13.2},"y":{"datum":21.7},"text":{"value":"AST"}}},
   {"data":{"values":[{}]},"mark":{"type":"text","fontSize":14,"fontWeight":"bold","align":"left","baseline":"alphabetic","dx":-66,"dy":12},"encoding":{"x":{"datum":0},"y":{"datum":30},"text":{"value":"H"}}}
  ]},
  {"width":187,"height":137,"data":{"name":"K"},"layer":[
   {"mark":{"type":"point","filled":true,"size":32,"color":"black","opacity":1},"encoding":{"x":{"field":"x","type":"quantitative","scale":{"domain":[20,55],"nice":false,"zero":false},"axis":{"values":[20,25,30,35,40,45,50,55],"tickCount":20,"title":"Mean of EE POCT and AU5800 (g/liter)"}},"y":{"field":"y","type":"quantitative","scale":{"domain":[-15,20],"nice":false,"zero":false},"axis":{"values":[-15,-10,-5,0,5,10,15,20],"tickCount":20,"title":"Difference (g/liter)"}}}},
   {"data":{"values":[{"line":"upper","x":24,"x2":51.7,"y":8.7},{"line":"mean","x":24,"x2":51.7,"y":2.1},{"line":"zero","x":24,"x2":51.7,"y":0},{"line":"lower","x":24,"x2":51.7,"y":-4.5}]},"mark":{"type":"rule","strokeWidth":2},"encoding":{"x":{"field":"x","type":"quantitative"},"x2":{"field":"x2"},"y":{"field":"y","type":"quantitative"},"color":{"field":"line","type":"nominal","scale":{"domain":["upper","mean","zero","lower"],"range":["#3d9e63","#ff0000","#b583e0","#2e7fd9"]},"legend":null}}},
   {"data":{"values":[{}]},"mark":{"type":"text","fontSize":16,"align":"left","baseline":"alphabetic"},"encoding":{"x":{"datum":22.6},"y":{"datum":13.8},"text":{"value":"ALB"}}},
   {"data":{"values":[{}]},"mark":{"type":"text","fontSize":14,"fontWeight":"bold","align":"left","baseline":"alphabetic","dx":-66,"dy":16},"encoding":{"x":{"datum":20},"y":{"datum":20},"text":{"value":"K"}}}
  ]}
 ], "spacing": 47, "bounds": "flush", "resolve": {"scale": {"color": "independent"}}},
 {"vconcat": [
  {"width":187,"height":137,"data":{"name":"C"},"layer":[
   {"mark":{"type":"point","filled":true,"size":32,"color":"black","opacity":1},"encoding":{"x":{"field":"x","type":"quantitative","scale":{"domain":[20,383],"nice":false,"zero":false},"axis":{"values":[60,120,180,240,300,360],"tickCount":20,"title":"AU5800 concentration (U/liter)"}},"y":{"field":"y","type":"quantitative","scale":{"domain":[30,350],"nice":false,"zero":false},"axis":{"values":[55,110,165,220,275,330],"tickCount":20,"title":"EE POCT concentration (U/liter)","titleFontSize":11}}}},
   {"data":{"values":[{"x":42.6,"y":47.2,"x2":356.8,"y2":330}]},"mark":{"type":"rule","color":"#ff0000","strokeWidth":2},"encoding":{"x":{"field":"x","type":"quantitative"},"y":{"field":"y","type":"quantitative"},"x2":{"field":"x2"},"y2":{"field":"y2"}}},
   {"data":{"values":[{"x":356.8,"y":277.8}]},"mark":{"type":"point","filled":false,"size":90,"color":"#ff0000","strokeWidth":1.5,"opacity":1},"encoding":{"x":{"field":"x","type":"quantitative"},"y":{"field":"y","type":"quantitative"}}},
   {"data":{"values":[{}]},"mark":{"type":"text","fontSize":16,"align":"left","baseline":"alphabetic"},"encoding":{"x":{"datum":57.4},"y":{"datum":287.2},"text":{"value":"ALP"}}},
   {"data":{"values":[{}]},"mark":{"type":"text","fontSize":13.7,"align":"right","baseline":"alphabetic","dx":-50.7},"encoding":{"x":{"datum":341.3},"y":{"datum":47.2},"text":{"value":"Pearson,"}}},
   {"data":{"values":[{}]},"mark":{"type":"text","fontSize":13.7,"fontStyle":"italic","align":"right","baseline":"alphabetic","dx":-42.3},"encoding":{"x":{"datum":341.3},"y":{"datum":47.2},"text":{"value":"r"}}},
   {"data":{"values":[{}]},"mark":{"type":"text","fontSize":13.7,"align":"right","baseline":"alphabetic"},"encoding":{"x":{"datum":341.3},"y":{"datum":47.2},"text":{"value":"= 0.96"}}},
   {"data":{"values":[{}]},"mark":{"type":"text","fontSize":14,"fontWeight":"bold","align":"left","baseline":"alphabetic","dx":-58,"dy":4},"encoding":{"x":{"datum":20},"y":{"datum":350},"text":{"value":"C"}}}
  ]},
  {"width":187,"height":137,"data":{"name":"F"},"layer":[
   {"mark":{"type":"point","filled":true,"size":32,"color":"black","opacity":1},"encoding":{"x":{"field":"x","type":"quantitative","scale":{"domain":[96.7,110.8],"nice":false,"zero":false},"axis":{"values":[98,100,102,104,106,108,110],"tickCount":20,"format":"d","title":"AU5800 concentration (mM)"}},"y":{"field":"y","type":"quantitative","scale":{"domain":[91,115.7],"nice":false,"zero":false},"axis":{"values":[93,96,99,102,105,108,111,114],"tickCount":20,"format":"d","title":"EE POCT concentration (mM)"}}}},
   {"data":{"values":[{"x":96.7,"y":97.9,"x2":110.8,"y2":111.1}]},"mark":{"type":"rule","color":"#ff0000","strokeWidth":2},"encoding":{"x":{"field":"x","type":"quantitative"},"y":{"field":"y","type":"quantitative"},"x2":{"field":"x2"},"y2":{"field":"y2"}}},
   {"data":{"values":[{}]},"mark":{"type":"text","fontSize":16,"align":"left","baseline":"alphabetic"},"encoding":{"x":{"datum":97.9},"y":{"datum":111.8},"text":{"value":"Cl⁻"}}},
   {"data":{"values":[{}]},"mark":{"type":"text","fontSize":13.7,"align":"right","baseline":"alphabetic","dx":-50.7},"encoding":{"x":{"datum":109},"y":{"datum":93.4},"text":{"value":"Pearson,"}}},
   {"data":{"values":[{}]},"mark":{"type":"text","fontSize":13.7,"fontStyle":"italic","align":"right","baseline":"alphabetic","dx":-42.3},"encoding":{"x":{"datum":109},"y":{"datum":93.4},"text":{"value":"r"}}},
   {"data":{"values":[{}]},"mark":{"type":"text","fontSize":13.7,"align":"right","baseline":"alphabetic"},"encoding":{"x":{"datum":109},"y":{"datum":93.4},"text":{"value":"= 0.91"}}},
   {"data":{"values":[{}]},"mark":{"type":"text","fontSize":14,"fontWeight":"bold","align":"left","baseline":"alphabetic","dx":-58,"dy":10},"encoding":{"x":{"datum":96.7},"y":{"datum":115.7},"text":{"value":"F"}}}
  ]},
  {"width":187,"height":137,"data":{"name":"I"},"layer":[
   {"mark":{"type":"point","filled":true,"size":32,"color":"black","opacity":1},"encoding":{"x":{"field":"x","type":"quantitative","scale":{"domain":[0,347],"nice":false,"zero":false},"axis":{"values":[0,55,110,165,220,275,330],"tickCount":20,"title":"Mean of EE POCT and AU5800 (U/liter)"}},"y":{"field":"y","type":"quantitative","scale":{"domain":[-90,60],"nice":false,"zero":false},"axis":{"values":[-90,-60,-30,0,30,60],"tickCount":20,"title":"Difference (U/liter)"}}}},
   {"data":{"values":[{"line":"upper","x":36,"x2":313,"y":19.8},{"line":"mean","x":36,"x2":313,"y":3},{"line":"zero","x":36,"x2":313,"y":0},{"line":"lower","x":36,"x2":313,"y":-13.5}]},"mark":{"type":"rule","strokeWidth":2},"encoding":{"x":{"field":"x","type":"quantitative"},"x2":{"field":"x2"},"y":{"field":"y","type":"quantitative"},"color":{"field":"line","type":"nominal","scale":{"domain":["upper","mean","zero","lower"],"range":["#3d9e63","#ff0000","#2e7fd9","#b583e0"]},"legend":null}}},
   {"data":{"values":[{"x":313.4,"y":-79.9}]},"mark":{"type":"point","filled":false,"size":90,"color":"#ff0000","strokeWidth":1.5,"opacity":1},"encoding":{"x":{"field":"x","type":"quantitative"},"y":{"field":"y","type":"quantitative"}}},
   {"data":{"values":[{}]},"mark":{"type":"text","fontSize":16,"align":"left","baseline":"alphabetic"},"encoding":{"x":{"datum":24.7},"y":{"datum":34.2},"text":{"value":"ALP"}}},
   {"data":{"values":[{}]},"mark":{"type":"text","fontSize":14,"fontWeight":"bold","align":"left","baseline":"alphabetic","dx":-58,"dy":12},"encoding":{"x":{"datum":0},"y":{"datum":60},"text":{"value":"I"}}}
  ]},
  {"width":187,"height":137,"data":{"name":"L"},"layer":[
   {"mark":{"type":"point","filled":true,"size":32,"color":"black","opacity":1},"encoding":{"x":{"field":"x","type":"quantitative","scale":{"domain":[85,125],"nice":false,"zero":false},"axis":{"values":[85,90,95,100,105,110,115,120,125],"tickCount":20,"title":"Mean of EE POCT and AU5800 (mmol/liter)","titleFontSize":11.6,"titleX":88,"titleAlign":"center"}},"y":{"field":"y","type":"quantitative","scale":{"domain":[-10,10],"nice":false,"zero":false},"axis":{"values":[-10,-5,0,5,10],"tickCount":20,"title":"Difference (mmol/liter)"}}}},
   {"data":{"values":[{"line":"upper","x":88.2,"x2":121.2,"y":4.6},{"line":"mean","x":88.2,"x2":121.2,"y":0.7},{"line":"zero","x":88.2,"x2":121.2,"y":0},{"line":"lower","x":88.2,"x2":121.2,"y":-3.2}]},"mark":{"type":"rule","strokeWidth":2},"encoding":{"x":{"field":"x","type":"quantitative"},"x2":{"field":"x2"},"y":{"field":"y","type":"quantitative"},"color":{"field":"line","type":"nominal","scale":{"domain":["upper","mean","zero","lower"],"range":["#3d9e63","#ff0000","#b583e0","#2e7fd9"]},"legend":null}}},
   {"data":{"values":[{}]},"mark":{"type":"text","fontSize":16,"align":"left","baseline":"alphabetic"},"encoding":{"x":{"datum":88.5},"y":{"datum":6.95},"text":{"value":"Cl⁻"}}},
   {"data":{"values":[{}]},"mark":{"type":"text","fontSize":14,"fontWeight":"bold","align":"left","baseline":"alphabetic","dx":-58,"dy":16},"encoding":{"x":{"datum":85},"y":{"datum":10},"text":{"value":"L"}}}
  ]}
 ], "spacing": 47, "bounds": "flush", "resolve": {"scale": {"color": "independent"}}}
],
"spacing": 2.6,
"bounds": "full",
"resolve": {"scale": {"color": "independent"}}
}
